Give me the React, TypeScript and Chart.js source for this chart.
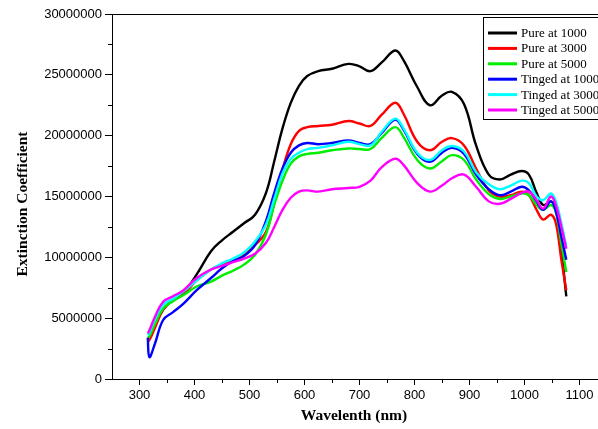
import React, { useEffect, useRef } from "react";
import { Chart, registerables } from "chart.js";

Chart.register(...registerables);

// Wavelength (nm)
const wavelengths = [315, 318, 328, 343, 361, 380, 404, 430, 450, 470, 490, 510, 530, 545, 560, 575, 590, 605, 625, 650, 680, 700, 720, 740, 765, 780, 805, 828, 850, 868, 890, 912, 935, 955, 975, 995, 1008, 1022, 1034, 1048, 1057, 1067, 1076];

// Extinction coefficient, in millions
const pure1000 = [3.2, 3.3, 4.4, 5.7, 6.5, 7.1, 8.6, 10.5, 11.4, 12.1, 12.8, 13.5, 15.3, 17.9, 20.6, 22.7, 24.1, 24.9, 25.3, 25.5, 25.9, 25.7, 25.3, 26.0, 27.0, 26.2, 24.0, 22.5, 23.3, 23.6, 22.6, 19.2, 16.8, 16.4, 16.8, 17.1, 16.8, 15.3, 14.3, 14.6, 14.0, 10.6, 6.8];
const pure3000 = [3.05, 3.2, 4.2, 5.7, 6.5, 7.0, 8.1, 9.0, 9.4, 9.7, 10.2, 11.0, 12.1, 14.5, 17.2, 19.3, 20.4, 20.7, 20.8, 20.9, 21.2, 21.0, 20.8, 21.7, 22.7, 21.8, 19.5, 18.8, 19.5, 19.8, 19.2, 17.3, 15.5, 15.0, 15.1, 15.4, 15.1, 13.9, 13.1, 13.5, 12.8, 9.8, 7.3];
const pure5000 = [3.4, 3.5, 4.5, 5.8, 6.4, 6.9, 7.6, 8.0, 8.5, 8.9, 9.4, 10.2, 11.9, 14.3, 16.3, 17.7, 18.3, 18.5, 18.6, 18.8, 18.95, 18.9, 18.9, 19.8, 20.7, 19.9, 18.0, 17.3, 17.9, 18.4, 18.0, 16.4, 15.2, 14.8, 15.0, 15.25, 15.1, 14.3, 13.9, 14.3, 13.7, 11.1, 8.8];
const tinged1000 = [3.4, 1.8, 2.9, 4.85, 5.5, 6.2, 7.3, 8.3, 9.1, 9.7, 10.1, 11.0, 13.0, 15.3, 17.3, 18.6, 19.2, 19.4, 19.3, 19.4, 19.6, 19.4, 19.3, 20.2, 21.3, 20.5, 18.5, 17.85, 18.6, 19.0, 18.5, 16.8, 15.6, 15.1, 15.4, 15.8, 15.5, 14.6, 13.9, 14.6, 13.8, 11.7, 9.8];
const tinged3000 = [3.6, 3.8, 4.9, 6.1, 6.6, 7.2, 8.1, 9.0, 9.5, 9.9, 10.4, 11.3, 12.7, 14.8, 16.9, 18.1, 18.6, 18.9, 19.0, 19.2, 19.5, 19.3, 19.2, 20.3, 21.4, 20.6, 18.6, 18.0, 18.8, 19.15, 18.7, 17.0, 16.0, 15.6, 15.9, 16.3, 16.1, 15.0, 14.7, 15.25, 14.6, 12.8, 10.9];
const tinged5000 = [3.75, 4.0, 5.1, 6.35, 6.8, 7.3, 8.3, 9.0, 9.3, 9.6, 9.9, 10.3, 11.2, 12.5, 13.9, 14.9, 15.4, 15.5, 15.4, 15.6, 15.7, 15.8, 16.3, 17.4, 18.1, 17.6, 16.1, 15.4, 15.9, 16.5, 16.8, 15.8, 14.6, 14.4, 14.8, 15.3, 15.4, 14.7, 14.0, 15.0, 14.3, 12.5, 10.7];

const seriesLabels = ["Pure at 1000", "Pure at 3000", "Pure at 5000", "Tinged at 1000", "Tinged at 3000", "Tinged at 5000"];
const seriesColors = ["#000000", "#ff0000", "#00ee00", "#0000ff", "#00ffff", "#ff00ff"];
const seriesValues = [pure1000, pure3000, pure5000, tinged1000, tinged3000, tinged5000];

const xTickValues = [300, 400, 500, 600, 700, 800, 900, 1000, 1100];
const xMinorTicks = [350, 450, 550, 650, 750, 850, 950, 1050, 1150];
const yTickValues = [0, 5000000, 10000000, 15000000, 20000000, 25000000, 30000000];
const yMinorTicks = [2500000, 7500000, 12500000, 17500000, 22500000, 27500000];

const xTitle = "Wavelenth (nm)";
const yTitle = "Extinction Coefficient";

const serif = "'Liberation Serif', 'Times New Roman', serif";
const sans = "'Liberation Sans', Arial, sans-serif";

const decorPlugin = {
  id: "decor",
  afterDraw(chart: any) {
    const ctx = chart.ctx;
    const area = chart.chartArea;
    const xs = chart.scales.x;
    const ys = chart.scales.y;
    ctx.save();
    ctx.strokeStyle = "#000";
    ctx.lineWidth = 1;
    // top border
    ctx.beginPath();
    ctx.moveTo(area.left, area.top + 0.5);
    ctx.lineTo(area.right, area.top + 0.5);
    ctx.stroke();
    // minor ticks
    ctx.beginPath();
    for (const v of xMinorTicks) {
      const px = Math.round(xs.getPixelForValue(v)) + 0.5;
      ctx.moveTo(px, area.bottom);
      ctx.lineTo(px, area.bottom + 4);
    }
    for (const v of yMinorTicks) {
      const py = Math.round(ys.getPixelForValue(v)) + 0.5;
      ctx.moveTo(area.left, py);
      ctx.lineTo(area.left - 4, py);
    }
    ctx.stroke();

    // axis titles
    ctx.fillStyle = "#000";
    ctx.font = `bold 15.5px ${serif}`;
    ctx.textAlign = "center";
    ctx.textBaseline = "alphabetic";
    ctx.fillText(xTitle, 354, 420);
    ctx.save();
    ctx.translate(27, 204);
    ctx.rotate(-Math.PI / 2);
    ctx.fillText(yTitle, 0, 0);
    ctx.restore();

    // legend
    const lx = 483.5;
    const ly = 17.5;
    const lh = 102;
    ctx.fillStyle = "#fff";
    ctx.fillRect(lx, ly, 200, lh);
    ctx.strokeStyle = "#000";
    ctx.lineWidth = 1;
    ctx.strokeRect(lx, ly, 200, lh);
    ctx.font = `13px ${serif}`;
    ctx.textAlign = "left";
    ctx.textBaseline = "middle";
    chart.data.datasets.forEach((ds: any, i: number) => {
      const cy = 33 + i * 15.4;
      ctx.strokeStyle = ds.borderColor;
      ctx.lineWidth = 3;
      ctx.beginPath();
      ctx.moveTo(488, cy);
      ctx.lineTo(517, cy);
      ctx.stroke();
      ctx.fillStyle = "#000";
      ctx.fillText(ds.label, 521, cy + 0.5);
    });
    ctx.restore();
  },
};

export default function App() {
  const canvasRef = useRef<HTMLCanvasElement | null>(null);

  useEffect(() => {
    const canvas = canvasRef.current;
    if (!canvas) return;
    const datasets = seriesValues.map((vals, i) => ({
      label: seriesLabels[i],
      data: wavelengths.map((w, j) => ({ x: w, y: vals[j] * 1000000 })),
      borderColor: seriesColors[i],
      backgroundColor: seriesColors[i],
      borderWidth: 2.4,
      pointRadius: 0,
      fill: false,
      tension: 0.4,
      order: seriesValues.length - 1 - i,
    }));
    const chart = new Chart(canvas, {
      type: "line",
      data: { datasets },
      options: {
        animation: false,
        responsive: false,
        maintainAspectRatio: false,
        layout: { padding: { top: 14, right: 13, bottom: 0, left: 0 } },
        plugins: {
          legend: { display: false },
          tooltip: { enabled: false },
          title: { display: false },
        },
        scales: {
          x: {
            type: "linear",
            min: 250,
            max: 1150,
            afterBuildTicks: (scale: any) => {
              scale.ticks = xTickValues.map((v) => ({ value: v }));
            },
            afterFit: (scale: any) => {
              scale.height = 50;
            },
            ticks: {
              color: "#000",
              font: { family: sans, size: 13 },
              padding: 3,
              maxRotation: 0,
              autoSkip: false,
              callback: (v: any) => String(v),
            },
            grid: {
              display: true,
              drawOnChartArea: false,
              drawTicks: true,
              tickLength: 6,
              color: "#000",
              lineWidth: 1,
            },
            border: { display: true, color: "#000", width: 1 },
          },
          y: {
            type: "linear",
            min: 0,
            max: 30000000,
            afterBuildTicks: (scale: any) => {
              scale.ticks = yTickValues.map((v) => ({ value: v }));
            },
            afterFit: (scale: any) => {
              scale.width = 112;
            },
            ticks: {
              color: "#000",
              font: { family: sans, size: 13 },
              padding: 3,
              autoSkip: false,
              callback: (v: any) => String(v),
            },
            grid: {
              display: true,
              drawOnChartArea: false,
              drawTicks: true,
              tickLength: 7,
              color: "#000",
              lineWidth: 1,
            },
            border: { display: true, color: "#000", width: 1 },
          },
        },
      },
      plugins: [decorPlugin],
    });
    return () => chart.destroy();
  }, []);

  return (
    <div style={{ position: "fixed", left: 0, top: 0, width: 598, height: 429, overflow: "hidden", background: "#fff" }}>
      <canvas ref={canvasRef} width={620} height={429} style={{ display: "block", width: 620, height: 429 }} />
    </div>
  );
}
